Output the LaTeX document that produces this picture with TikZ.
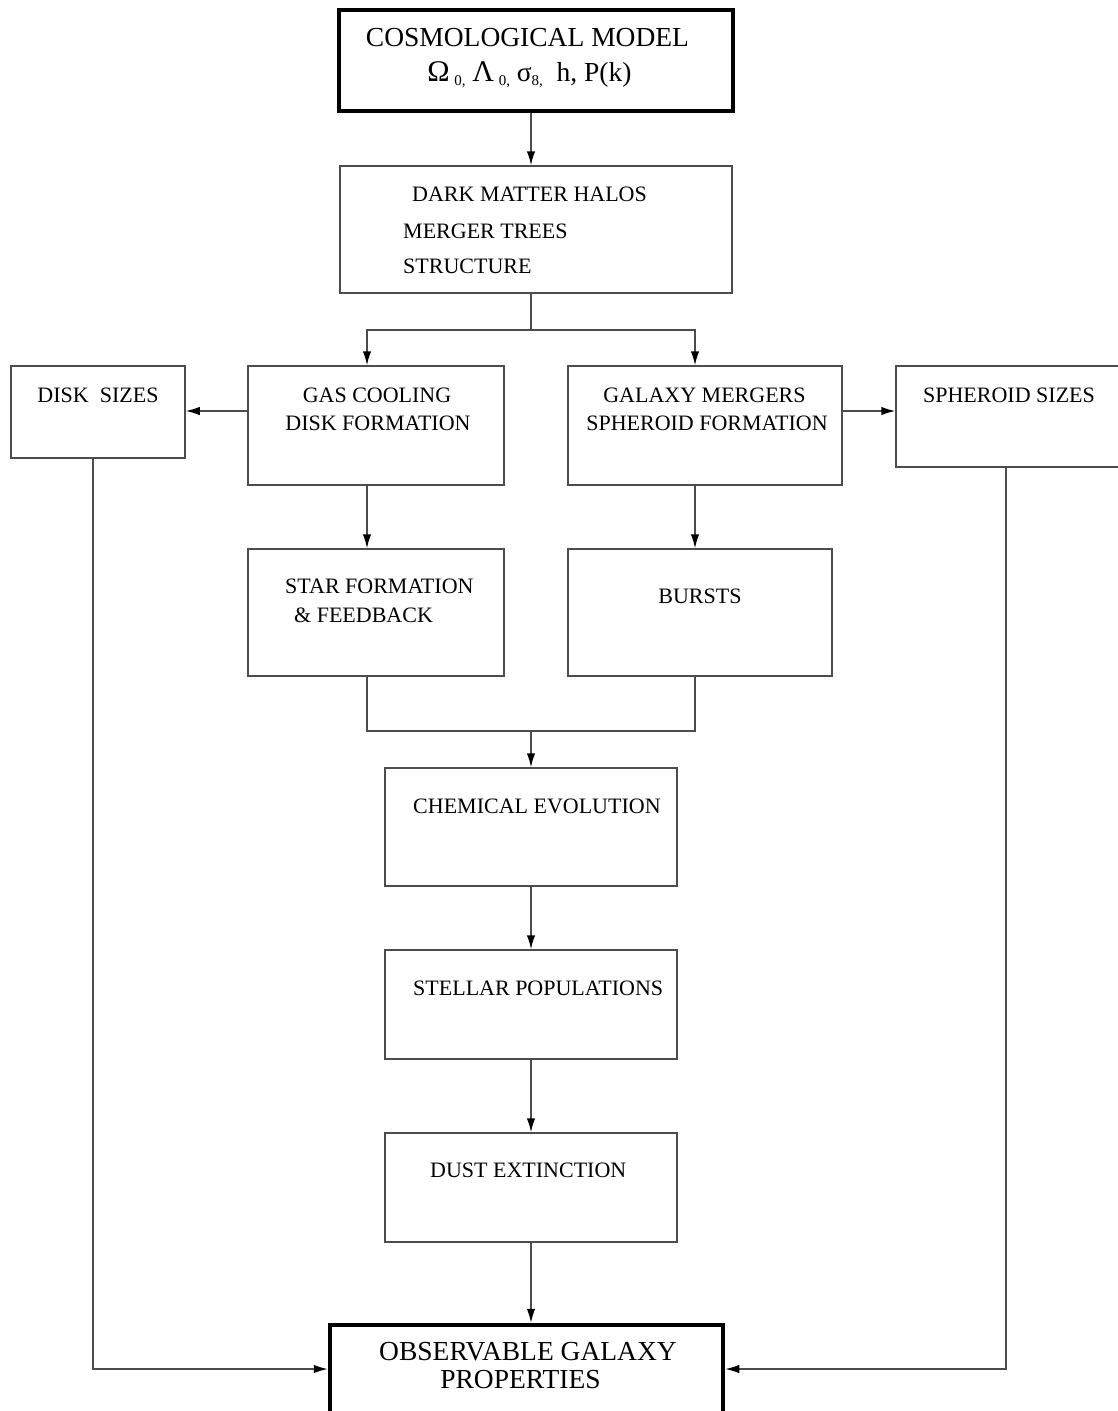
\documentclass[tikz,border=0pt]{standalone}
\usepackage{fontspec}
\setmainfont{Liberation Serif}
\usetikzlibrary{arrows.meta}

\tikzset{
  box/.style={draw=black!70,line width=1.5pt,inner sep=0pt},
  bigbox/.style={draw=black,line width=4.5pt,inner sep=0pt},
  txt/.style={inner sep=0pt,font=\fontsize{22}{26}\selectfont},
  bigtxt/.style={inner sep=0pt,font=\fontsize{27.5}{32}\selectfont},
  link/.style={draw=black!70,line width=1.5pt},
  arr/.style={link,-{Latex[length=14pt,width=8.5pt,black]}}
}

\begin{document}
\begin{tikzpicture}[x=1pt,y=-1pt]
\useasboundingbox (0,0) rectangle (1118,1411);

\node (cosmo) [bigbox,minimum width=394pt,minimum height=101pt] at (536,60.5) {};
\node (dm) [box,minimum width=392pt,minimum height=127pt] at (536,229.5) {};
\node (gas) [box,minimum width=256pt,minimum height=119pt] at (376,425.5) {};
\node (merg) [box,minimum width=274pt,minimum height=119pt] at (705,425.5) {};
\node (disk) [box,minimum width=174pt,minimum height=92pt] at (98,412) {};
\node (sph) [box,minimum width=229pt,minimum height=101pt] at (1010.5,416.5) {};
\node (star) [box,minimum width=256pt,minimum height=127pt] at (376,612.5) {};
\node (bursts) [box,minimum width=264pt,minimum height=127pt] at (700,612.5) {};
\node (chem) [box,minimum width=292pt,minimum height=118pt] at (531,827) {};
\node (stel) [box,minimum width=292pt,minimum height=109pt] at (531,1004.5) {};
\node (dust) [box,minimum width=292pt,minimum height=109pt] at (531,1187.5) {};
\node (obs) [bigbox,minimum width=393pt,minimum height=95pt] at (526.5,1372.5) {};

\node (cosmotitle) [bigtxt] at (527.5,38) {COSMOLOGICAL MODEL};
\node (cosmopar) [bigtxt] at (529.5,75) {{\fontsize{30}{32}\selectfont Ω}\,\raisebox{-0.35ex}{\fontsize{15}{16}\selectfont 0,} {\fontsize{30}{32}\selectfont Λ}\,\raisebox{-0.35ex}{\fontsize{15}{16}\selectfont 0,} σ\raisebox{-0.35ex}{\fontsize{15}{16}\selectfont 8,}\ \ h, P(k)};
\node (dmhalos) [txt,anchor=west] at (412,194) {DARK MATTER HALOS};
\node (dmtrees) [txt,anchor=west] at (403,231) {MERGER TREES};
\node (dmstruct) [txt,anchor=west] at (403,266) {STRUCTURE};
\node (gascool) [txt] at (377,395) {GAS COOLING};
\node (gasdisk) [txt] at (378,423) {DISK FORMATION};
\node (mergmerg) [txt] at (704.5,395) {GALAXY MERGERS};
\node (mergsph) [txt] at (707,423) {SPHEROID FORMATION};
\node (disksize) [txt] at (98,395) {DISK\ \ SIZES};
\node (sphsize) [txt] at (1009,395) {SPHEROID SIZES};
\node (starform) [txt,anchor=west] at (285,586) {STAR FORMATION};
\node (starfeed) [txt,anchor=west] at (294,615) {\& FEEDBACK};
\node (burststxt) [txt] at (700,596) {BURSTS};
\node (chemtxt) [txt,anchor=west] at (413,806) {CHEMICAL EVOLUTION};
\node (steltxt) [txt,anchor=west] at (413,988) {STELLAR POPULATIONS};
\node (dusttxt) [txt,anchor=west] at (430,1170) {DUST EXTINCTION};
\node (obstitle) [bigtxt] at (528,1352) {OBSERVABLE GALAXY};
\node (obsprop) [bigtxt] at (520.5,1380) {PROPERTIES};

\coordinate (spine) at (531,0);
\coordinate (leftcol) at (367,0);
\coordinate (rightcol) at (695,0);
\coordinate (diskx) at (93,0);
\coordinate (sphx) at (1006,0);
\coordinate (split) at (531,330);
\coordinate (join) at (531,731);
\coordinate (sidey) at (0,411);
\coordinate (bottomy) at (0,1369);

\draw[arr] (spine |- cosmo.south) -- (spine |- dm.north);
\draw[link] (spine |- dm.south) -- (split);
\draw[arr] (split) -| (leftcol |- gas.north);
\draw[arr] (split) -| (rightcol |- merg.north);
\draw[arr] (gas.west |- sidey) -- (disk.east |- sidey);
\draw[arr] (merg.east |- sidey) -- (sph.west |- sidey);
\draw[arr] (leftcol |- gas.south) -- (leftcol |- star.north);
\draw[arr] (rightcol |- merg.south) -- (rightcol |- bursts.north);
\draw[link] (leftcol |- star.south) |- (join) -| (rightcol |- bursts.south);
\draw[arr] (join) -- (chem.north);
\draw[arr] (chem.south) -- (stel.north);
\draw[arr] (stel.south) -- (dust.north);
\draw[arr] (dust.south) -- (spine |- obs.north);
\draw[arr] (diskx |- disk.south) |- (obs.west |- bottomy);
\draw[arr] (sphx |- sph.south) |- (obs.east |- bottomy);
\end{tikzpicture}
\end{document}
